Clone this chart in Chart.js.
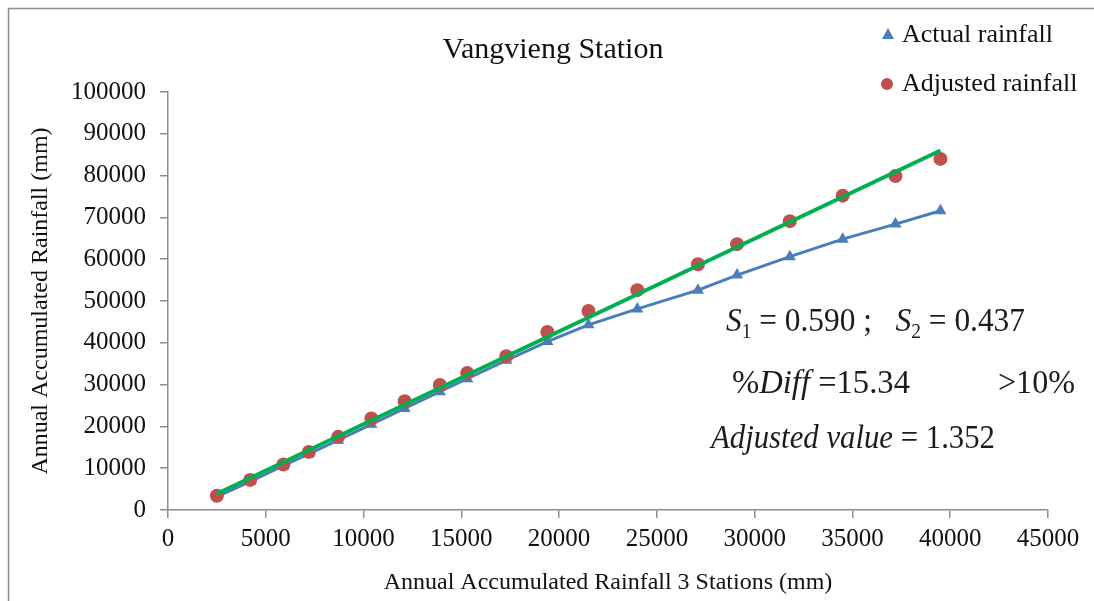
<!DOCTYPE html>
<html>
<head>
<meta charset="utf-8">
<script src="https://cdn.jsdelivr.net/npm/chart.js@4/dist/chart.umd.min.js"></script>
<style>
  html, body { margin: 0; padding: 0; background: #fff; overflow: hidden; }
  canvas { display: block; }
</style>
</head>
<body>
<canvas id="chart" width="1094" height="601"></canvas>
<script>
// Données
const stations3 = [2500, 4200, 5900, 7200, 8700, 10400, 12100, 13900, 15300, 17300, 19400, 21500, 24000, 27100, 29100, 31800, 34500, 37200, 39500];
const actualRain = [3200, 6800, 10600, 13400, 16700, 20500, 24300, 28300, 31400, 35800, 40300, 44300, 48100, 52600, 56200, 60600, 64800, 68400, 71600];
const adjustedRain = [3400, 7200, 10900, 13900, 17500, 21900, 26000, 29900, 32800, 36800, 42600, 47600, 52600, 58800, 63600, 69100, 75200, 79900, 84000];
const trendX = [2500, 39500];
const trendY = [3900, 86000];

const xTicks = [0, 5000, 10000, 15000, 20000, 25000, 30000, 35000, 40000, 45000];
const yTicks = [0, 10000, 20000, 30000, 40000, 50000, 60000, 70000, 80000, 90000, 100000];

const COLORS = {
  actual: '#4A7EBB',
  adjusted: '#C0504D',
  trend: '#00B050',
  axis: '#8C8C8C',
  text: '#111111',
};

const SERIF = "'Liberation Serif', 'DejaVu Serif', serif";

function pairs(xs, ys) {
  return xs.map((x, i) => ({ x: x, y: ys[i] }));
}

// Texte avec segments (italique / indice), compressé à la largeur voulue
function drawRich(ctx, segments, x, baseline, width, size) {
  let total = 0;
  segments.forEach(s => {
    ctx.font = (s.italic ? 'italic ' : '') + (s.sub ? size * 0.62 : size) + 'px ' + SERIF;
    total += ctx.measureText(s.t).width;
  });
  const k = width / total;
  ctx.save();
  ctx.translate(x, baseline);
  ctx.scale(k, 1);
  ctx.fillStyle = '#1c1c1c';
  ctx.textBaseline = 'alphabetic';
  ctx.textAlign = 'left';
  let cx = 0;
  segments.forEach(s => {
    ctx.font = (s.italic ? 'italic ' : '') + (s.sub ? size * 0.62 : size) + 'px ' + SERIF;
    ctx.fillText(s.t, cx, s.sub ? size * 0.22 : 0);
    cx += ctx.measureText(s.t).width;
  });
  ctx.restore();
}

const decorPlugin = {
  id: 'decor',
  beforeDraw(chart) {
    const ctx = chart.ctx;
    ctx.save();
    ctx.fillStyle = '#fff';
    ctx.fillRect(0, 0, chart.width, chart.height);
    ctx.strokeStyle = COLORS.axis;
    ctx.lineWidth = 1.5;
    ctx.beginPath();
    ctx.moveTo(8.5, chart.height);
    ctx.lineTo(8.5, 8.5);
    ctx.lineTo(chart.width, 8.5);
    ctx.stroke();
    ctx.restore();
  },
  afterDraw(chart) {
    const ctx = chart.ctx;
    ctx.save();
    // titre
    ctx.fillStyle = COLORS.text;
    ctx.font = '30px ' + SERIF;
    ctx.textAlign = 'center';
    ctx.textBaseline = 'middle';
    ctx.fillText('Vangvieng Station', 553, 50);

    // légende
    ctx.font = '26px ' + SERIF;
    ctx.textAlign = 'left';
    ctx.fillText('Actual rainfall', 902, 35);
    ctx.fillText('Adjusted rainfall', 902, 84);
    ctx.fillStyle = COLORS.actual;
    ctx.beginPath();
    ctx.moveTo(888, 28);
    ctx.lineTo(894, 39);
    ctx.lineTo(882, 39);
    ctx.closePath();
    ctx.fill();
    ctx.fillStyle = COLORS.adjusted;
    ctx.beginPath();
    ctx.arc(887, 84, 6, 0, Math.PI * 2);
    ctx.fill();
    ctx.restore();

    // annotations
    drawRich(ctx, [
      { t: 'S', italic: true }, { t: '1', sub: true }, { t: ' = 0.590 ;   ' },
      { t: 'S', italic: true }, { t: '2', sub: true }, { t: ' = 0.437' },
    ], 726, 331, 299, 34);
    drawRich(ctx, [{ t: '%' }, { t: 'Diff', italic: true }, { t: ' =15.34' }], 732, 393, 178, 34);
    drawRich(ctx, [{ t: '>10%' }], 998, 393, 77, 34);
    drawRich(ctx, [{ t: 'Adjusted value', italic: true }, { t: ' = 1.352' }], 711, 448, 284, 34);
  },
};

const ctx = document.getElementById('chart').getContext('2d');

new Chart(ctx, {
  type: 'scatter',
  data: {
    datasets: [
      {
        label: 'Trend',
        data: pairs(trendX, trendY),
        showLine: true,
        borderColor: COLORS.trend,
        borderWidth: 4,
        pointRadius: 0,
        order: 0,
      },
      {
        label: 'Adjusted rainfall',
        data: pairs(stations3, adjustedRain),
        showLine: false,
        pointStyle: 'circle',
        pointRadius: 7,
        backgroundColor: COLORS.adjusted,
        borderColor: COLORS.adjusted,
        borderWidth: 0,
        order: 1,
      },
      {
        label: 'Actual rainfall',
        data: pairs(stations3, actualRain),
        showLine: true,
        borderColor: COLORS.actual,
        borderWidth: 3,
        pointStyle: 'triangle',
        pointRadius: 7,
        pointBackgroundColor: COLORS.actual,
        pointBorderColor: COLORS.actual,
        pointBorderWidth: 0,
        order: 2,
      },
    ],
  },
  options: {
    responsive: false,
    animation: false,
    layout: {
      padding: { left: 10, top: 92, right: 46, bottom: 0 },
    },
    plugins: {
      legend: { display: false },
      tooltip: { enabled: false },
    },
    scales: {
      x: {
        type: 'linear',
        min: 0,
        max: 45000,
        afterFit: s => { s.height = 91; },
        afterBuildTicks: s => { s.ticks = xTicks.map(v => ({ value: v })); },
        grid: { drawOnChartArea: false, drawTicks: true, tickLength: 8, color: COLORS.axis, lineWidth: 1.5 },
        border: { color: COLORS.axis, width: 1.5 },
        ticks: {
          color: COLORS.text,
          font: { family: SERIF, size: 25 },
          padding: 6,
          maxRotation: 0,
          autoSkip: false,
          callback: v => String(v),
        },
        title: {
          display: true,
          text: 'Annual Accumulated Rainfall 3 Stations (mm)',
          color: COLORS.text,
          font: { family: SERIF, size: 24 },
          padding: { top: 0, bottom: 4 },
        },
      },
      y: {
        type: 'linear',
        min: 0,
        max: 100000,
        afterFit: s => { s.width = 158; },
        afterBuildTicks: s => { s.ticks = yTicks.map(v => ({ value: v })); },
        grid: { drawOnChartArea: false, drawTicks: true, tickLength: 8, color: COLORS.axis, lineWidth: 1.5 },
        border: { color: COLORS.axis, width: 1.5 },
        ticks: {
          color: COLORS.text,
          font: { family: SERIF, size: 25 },
          padding: 14,
          autoSkip: false,
          callback: v => String(v),
        },
        title: {
          display: true,
          text: 'Annual Accumulated Rainfall (mm)',
          color: COLORS.text,
          font: { family: SERIF, size: 24 },
          padding: { top: 16, bottom: 0 },
        },
      },
    },
  },
  plugins: [decorPlugin],
});
</script>
</body>
</html>
